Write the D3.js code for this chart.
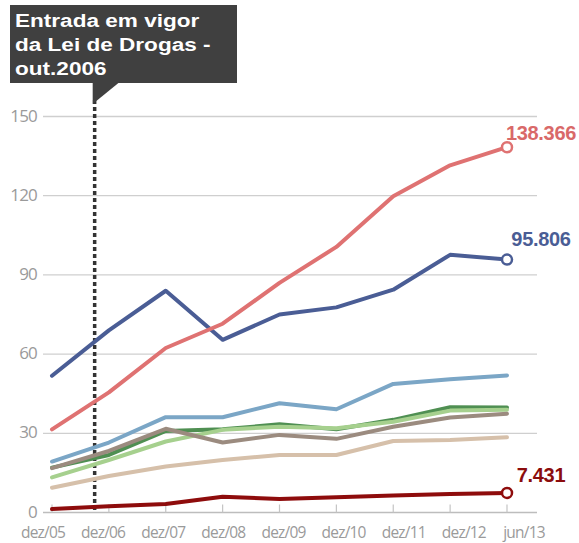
<!DOCTYPE html>
<html>
<head>
<meta charset="utf-8">
<script src="https://cdn.jsdelivr.net/npm/d3@7"></script>
<style>
  body { margin: 0; background: #fff; }
  svg { display: block; }
</style>
</head>
<body>
<script>
// periods on the x axis
const months = ["dez/05", "dez/06", "dez/07", "dez/08", "dez/09", "dez/10", "dez/11", "dez/12", "jun/13"];
const yTicks = [0, 30, 60, 90, 120, 150];

// series (thousands)
const navy = [51.8, 69, 84, 65.4, 75, 77.7, 84.4, 97.6, 95.806];
const salmon = [31.5, 45.5, 62.3, 71.5, 87, 100.6, 119.8, 131.5, 138.366];
const lightBlue = [19.3, 26.5, 36.1, 36.1, 41.4, 39.1, 48.7, 50.5, 51.9];
const darkGreen = [17, 21.8, 30.9, 31.5, 33.4, 31.5, 35.1, 39.9, 39.8];
const lightGreen = [13.3, 19.9, 26.9, 31.3, 32.5, 31.9, 34.4, 38.6, 38.9];
const brown = [16.8, 23.3, 31.7, 26.5, 29.4, 27.9, 32.5, 36, 37.4];
const beige = [9.4, 13.8, 17.4, 19.9, 21.8, 21.8, 27.1, 27.5, 28.5];
const darkRed = [1.3, 2.4, 3.2, 6, 5.1, 5.8, 6.4, 7, 7.431];

const endLabels = ["138.366", "95.806", "7.431"];
const calloutLines = ["Entrada em vigor", "da Lei de Drogas -", "out.2006"];
const eventIndex = 0.75; // out.2006 between dez/05 and dez/06

const w = 579;
const h = 543;

const svg = d3.select("body")
  .append("svg")
  .attr("width", w)
  .attr("height", h);

const x = d3.scalePoint().domain(months).range([52, 507]);
const xLabel = d3.scalePoint().domain(months).range([43, 524]);
const y = d3.scaleLinear().domain([0, 150]).range([512.5, 116.5]);

// gridlines
svg.selectAll("line.grid")
  .data(yTicks)
  .enter()
  .append("line")
  .attr("class", "grid")
  .attr("x1", 43)
  .attr("x2", 537)
  .attr("y1", d => y(d))
  .attr("y2", d => y(d))
  .style("stroke", d => d === 0 ? "#bdbdbd" : "#cfcfcf")
  .style("stroke-width", 1.3);

// y labels
svg.selectAll("text.ylab")
  .data(yTicks)
  .enter()
  .append("text")
  .attr("class", "ylab")
  .attr("x", 37)
  .attr("y", d => y(d) + 5)
  .attr("text-anchor", "end")
  .style("font-family", "'Open Sans', sans-serif")
  .style("font-size", "17px")
  .style("letter-spacing", "-0.8px")
  .style("fill", "#9a9a9a")
  .text(d => d);

// x ticks
svg.selectAll("line.xtick")
  .data(months)
  .enter()
  .append("line")
  .attr("class", "xtick")
  .attr("x1", d => x(d))
  .attr("x2", d => x(d))
  .attr("y1", y(0) - 8)
  .attr("y2", y(0))
  .style("stroke", "#c4c4c4")
  .style("stroke-width", 1.2);

// x labels
svg.selectAll("text.xlab")
  .data(months)
  .enter()
  .append("text")
  .attr("class", "xlab")
  .attr("x", d => xLabel(d))
  .attr("y", 537.5)
  .attr("text-anchor", "middle")
  .style("font-family", "'Open Sans', sans-serif")
  .style("font-size", "15.5px")
  .style("letter-spacing", "-0.8px")
  .style("fill", "#9a9a9a")
  .text(d => d);

// event marker
const step = x.step();
const eventX = x(months[0]) + eventIndex * step;

svg.append("line")
  .attr("x1", eventX)
  .attr("x2", eventX)
  .attr("y1", 100)
  .attr("y2", y(0))
  .style("stroke", "#333")
  .style("stroke-width", 3.5)
  .style("stroke-dasharray", "4,3");

// lines
const series = [
  { values: darkRed, color: "#8e0c0c" },
  { values: beige, color: "#d6c0aa" },
  { values: darkGreen, color: "#4f8f52" },
  { values: lightGreen, color: "#a6d08e" },
  { values: brown, color: "#9b8b7f" },
  { values: lightBlue, color: "#7ba6c6" },
  { values: navy, color: "#4a5d95" },
  { values: salmon, color: "#df7272" }
];

const line = d3.line()
  .x((d, i) => x(months[i]))
  .y(d => y(d));

svg.selectAll("path.series")
  .data(series)
  .enter()
  .append("path")
  .attr("class", "series")
  .attr("d", d => line(d.values))
  .style("fill", "none")
  .style("stroke", d => d.color)
  .style("stroke-width", 4)
  .style("stroke-linejoin", "round")
  .style("stroke-linecap", "round");

// end markers + labels
const ends = [
  { values: salmon, color: "#df7272", text: endLabels[0], color2: "#d96969", dy: -7 },
  { values: navy, color: "#4a5d95", text: endLabels[1], color2: "#4a5d95", dy: -14 },
  { values: darkRed, color: "#8e0c0c", text: endLabels[2], color2: "#8b0d0d", dy: -11 }
];
const last = months[months.length - 1];

svg.selectAll("circle.end")
  .data(ends)
  .enter()
  .append("circle")
  .attr("class", "end")
  .attr("cx", x(last))
  .attr("cy", d => y(d.values[d.values.length - 1]))
  .attr("r", 5)
  .style("fill", "#fff")
  .style("stroke", d => d.color)
  .style("stroke-width", 2.5);

svg.selectAll("text.endlab")
  .data(ends)
  .enter()
  .append("text")
  .attr("class", "endlab")
  .attr("x", 541)
  .attr("y", d => y(d.values[d.values.length - 1]) + d.dy)
  .attr("text-anchor", "middle")
  .style("font-family", "'Liberation Sans', Arial, sans-serif")
  .style("font-weight", "bold")
  .style("font-size", "20px")
  .style("letter-spacing", "-0.3px")
  .style("fill", d => d.color2)
  .text(d => d.text);

// callout box
const box = svg.append("g");
box.append("rect")
  .attr("x", 10)
  .attr("y", 5)
  .attr("width", 227)
  .attr("height", 78)
  .style("fill", "#404040");
box.append("path")
  .attr("d", `M${eventX - 2},82 L${eventX + 25},82 L${eventX - 2},104 Z`)
  .style("fill", "#404040");

box.selectAll("text")
  .data(calloutLines)
  .enter()
  .append("text")
  .attr("transform", (d, i) => `translate(15,${27 + i * 24}) scale(1.22,1)`)
  .style("font-family", "'Liberation Sans', Arial, sans-serif")
  .style("font-weight", "bold")
  .style("font-size", "18.5px")
  .style("fill", "#fff")
  .text(d => d);
</script>
</body>
</html>
